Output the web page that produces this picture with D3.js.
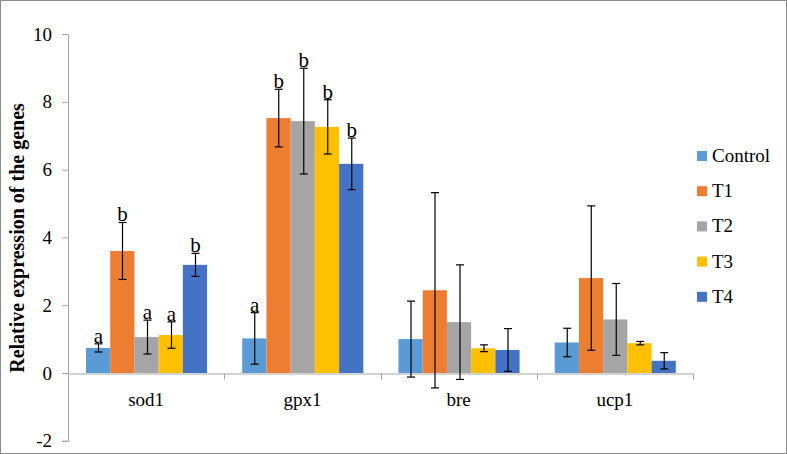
<!DOCTYPE html>
<html><head><meta charset="utf-8">
<script src="https://cdn.jsdelivr.net/npm/d3@7/dist/d3.min.js"></script>
<style>body{margin:0;background:#fff}svg{display:block}</style>
</head><body>
<svg id="chart" width="787" height="454"></svg>
<script>
const genes = ["sod1", "gpx1", "bre", "ucp1"];
const seriesNames = ["Control", "T1", "T2", "T3", "T4"];
const colors = ["#5B9BD5", "#ED7D31", "#A5A5A5", "#FFC000", "#4472C4"];
const controlVals = [0.74, 1.02, 1.00, 0.90];
const t1Vals = [3.60, 7.52, 2.44, 2.80];
const t2Vals = [1.06, 7.43, 1.50, 1.58];
const t3Vals = [1.12, 7.26, 0.73, 0.88];
const t4Vals = [3.19, 6.17, 0.68, 0.36];
const controlErr = [0.12, 0.76, 1.12, 0.42];
const t1Err = [0.84, 0.85, 2.88, 2.13];
const t2Err = [0.50, 1.56, 1.69, 1.06];
const t3Err = [0.39, 0.80, 0.10, 0.05];
const t4Err = [0.34, 0.76, 0.63, 0.24];
const controlLetters = ["a", "a", "", ""];
const t1Letters = ["b", "b", "", ""];
const t2Letters = ["a", "b", "", ""];
const t3Letters = ["a", "b", "", ""];
const t4Letters = ["b", "b", "", ""];
const yTicks = [-2, 0, 2, 4, 6, 8, 10];
const yTitle = "Relative expression of the genes";

const vals = [controlVals, t1Vals, t2Vals, t3Vals, t4Vals];
const errs = [controlErr, t1Err, t2Err, t3Err, t4Err];
const letters = [controlLetters, t1Letters, t2Letters, t3Letters, t4Letters];

const svg = d3.select("#chart");
const font = '"Liberation Serif", serif';
const axisColor = "#a6a6a6";

svg.append("rect").attr("x", 0.5).attr("y", 0.5).attr("width", 786).attr("height", 453)
  .attr("fill", "#fff").attr("stroke", "#8c8c8c").attr("stroke-width", 1);

const y = d3.scaleLinear().domain([-2, 10]).range([440.8, 34]);
const x0 = d3.scaleBand().domain(genes).range([68, 693]).padding(0);
const bw = x0.bandwidth();
const x1 = d3.scaleBand().domain(seriesNames).range([bw * 0.115, bw * 0.89]).padding(0);

const yAxis = d3.axisLeft(y).tickValues(yTicks).tickSize(6).tickPadding(10).tickFormat(d => String(d));
const gy = svg.append("g").attr("transform", "translate(68,0)").call(yAxis)
  .attr("font-family", null).attr("font-size", null);
gy.select(".domain").attr("stroke", axisColor);
gy.selectAll(".tick line").attr("stroke", axisColor);
gy.selectAll(".tick text").style("font-family", font).style("font-size", "19px").attr("fill", "#000");

const y0 = Math.round(y(0)) + 0.5;
const xAxis = d3.axisBottom(x0).tickSize(0).tickPadding(19);
const gx = svg.append("g").attr("transform", `translate(0,${y0})`).call(xAxis)
  .attr("font-family", null).attr("font-size", null);
gx.select(".domain").attr("stroke", axisColor);
gx.selectAll(".tick text").style("font-family", font).style("font-size", "19px").attr("fill", "#000");
const bounds = genes.map(g => x0(g)).concat([x0.range()[1]]);
gx.selectAll(".bound").data(bounds).enter().append("line")
  .attr("x1", d => Math.round(d) + 0.5).attr("x2", d => Math.round(d) + 0.5)
  .attr("y1", 0).attr("y2", 6).attr("stroke", axisColor);

const groups = svg.append("g").selectAll("g").data(genes).enter().append("g")
  .attr("transform", d => `translate(${x0(d)},0)`);

groups.each(function(g, gi) {
  const sel = d3.select(this);
  seriesNames.forEach((s, si) => {
    const v = vals[si][gi];
    sel.append("rect").attr("x", x1(s)).attr("width", x1.bandwidth())
      .attr("y", y(v)).attr("height", y(0) - y(v)).attr("fill", colors[si]);
  });
  seriesNames.forEach((s, si) => {
    const v = vals[si][gi], e = errs[si][gi];
    const cx = Math.round(x1(s) + x1.bandwidth() / 2) + 0.5;
    const top = y(v + e), bot = y(v - e);
    sel.append("line").attr("x1", cx).attr("x2", cx).attr("y1", top).attr("y2", bot)
      .attr("stroke", "#000").attr("stroke-width", 1.2);
    [top, bot].forEach(yy => sel.append("line").attr("x1", cx - 4).attr("x2", cx + 4)
      .attr("y1", yy).attr("y2", yy).attr("stroke", "#000").attr("stroke-width", 1.2));
    const L = letters[si][gi];
    if (L) {
      sel.append("text").attr("x", cx).attr("y", top - 1).attr("text-anchor", "middle")
        .style("font-family", font).style("font-size", "21px").attr("fill", "#000").text(L);
    }
  });
});

svg.append("text").attr("transform", "translate(24,238) rotate(-90)")
  .attr("text-anchor", "middle").style("font-family", font).style("font-weight", "bold")
  .style("font-size", "20px").attr("fill", "#000").text(yTitle);

const leg = svg.append("g").selectAll("g").data(seriesNames).enter().append("g")
  .attr("transform", (d, i) => `translate(697,${156 + i * 35.2})`);
leg.append("rect").attr("x", 0).attr("y", -5).attr("width", 10).attr("height", 10)
  .attr("fill", (d, i) => colors[i]);
leg.append("text").attr("x", 15).attr("y", 6).style("font-family", font).style("font-size", "19px")
  .attr("fill", "#000").text(d => d);
</script>
</body></html>
